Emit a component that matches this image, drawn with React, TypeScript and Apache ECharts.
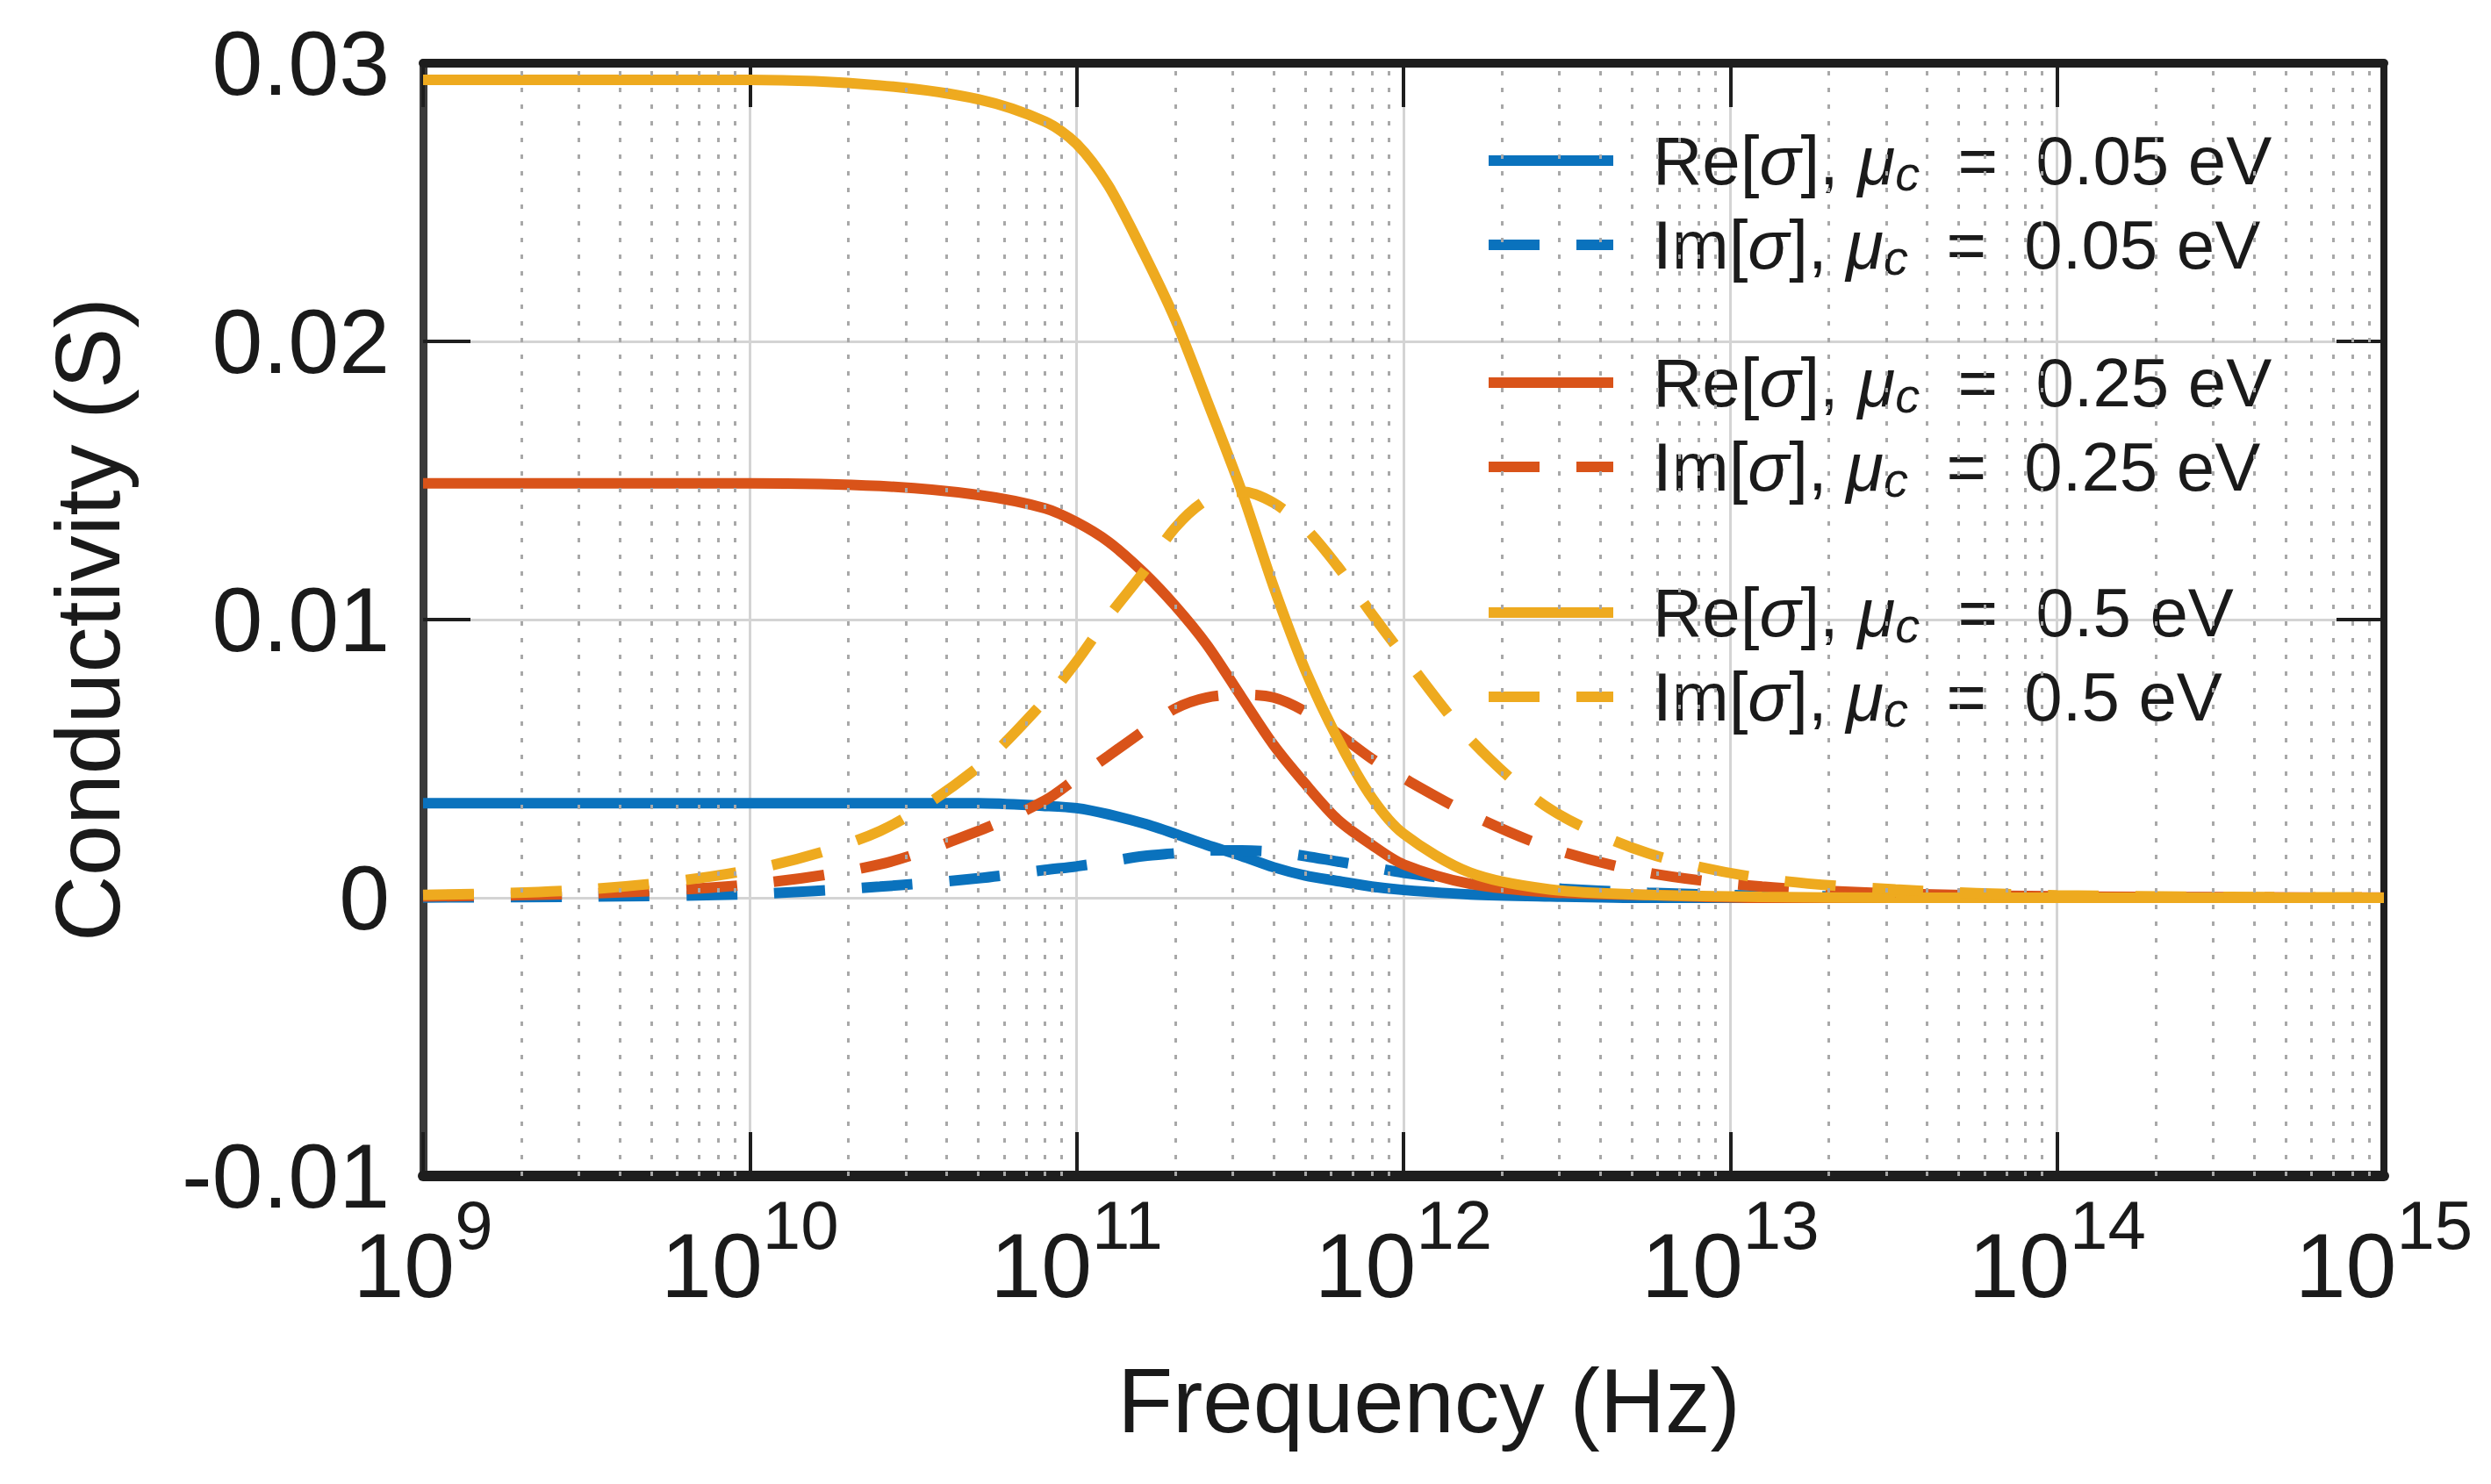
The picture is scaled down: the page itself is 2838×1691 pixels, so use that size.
import React, { useEffect, useRef } from 'react';
import * as echarts from 'echarts';

// frequency samples (Hz)
const freqs = [
  1e9, 3.2e9, 1e10, 2.5e10, 5e10, 8e10, 1e11, 1.25e11, 1.6e11, 2e11, 2.5e11, 3.2e11,
  4e11, 5e11, 6.3e11, 8e11, 1e12, 1.6e12, 2.8e12, 5.6e12, 1.25e13, 3.2e13, 1e14, 1e15,
];

const reBlue = [
  0.0034, 0.0034, 0.0034, 0.0034, 0.0034, 0.0033, 0.00322, 0.003, 0.00267, 0.0023, 0.0019, 0.0015,
  0.0011, 0.0008, 0.0006, 0.0004, 0.00028, 0.00012, 0.00005, 0, 0, 0, 0, 0,
];
const imBlue = [
  0.00001, 0.00004, 0.00013, 0.0004, 0.0007, 0.001, 0.00113, 0.0013, 0.0015, 0.0016, 0.0017, 0.0017,
  0.00165, 0.0015, 0.0013, 0.0011, 0.0009, 0.0006, 0.00035, 0.00018, 0.00008, 0.00003, 0.00001, 0,
];
const reRed = [
  0.0149, 0.0149, 0.0149, 0.0148, 0.01448, 0.014, 0.0135, 0.0128, 0.0117, 0.0105, 0.0091, 0.0072,
  0.0055, 0.0041, 0.0028, 0.0019, 0.0012, 0.0005, 0.0002, 0.0001, 0, 0, 0, 0,
];
const imRed = [
  0.00005, 0.00015, 0.00048, 0.0012, 0.0024, 0.0035, 0.0043, 0.0051, 0.006, 0.0068, 0.0072, 0.0073,
  0.0072, 0.0067, 0.0059, 0.005, 0.0043, 0.003, 0.0018, 0.0009, 0.0004, 0.00015, 0.00005, 0.000005,
];
const reOrange = [
  0.0294, 0.0294, 0.0294, 0.0292, 0.0287, 0.0279, 0.0271, 0.0256, 0.0232, 0.0208, 0.0179, 0.0146,
  0.0112, 0.0082, 0.0057, 0.0036, 0.0023, 0.0009, 0.0003, 0.0001, 0.00003, 0, 0, 0,
];
const imOrange = [
  0.0001, 0.0003, 0.001, 0.0024, 0.0047, 0.0071, 0.0085, 0.0101, 0.0117, 0.0133, 0.0143, 0.0146,
  0.0142, 0.0133, 0.0119, 0.0102, 0.0087, 0.0057, 0.0032, 0.0016, 0.0007, 0.0003, 0.00009, 0.00001,
];

const chemPotentials = ['0.05', '0.25', '0.5'];
const colors = ['#0A72BD', '#D95319', '#EEAA1F'];
const decades = [9, 10, 11, 12, 13, 14];
const minorSteps = [2, 3, 4, 5, 6, 7, 8, 9];

const FONT = '"Liberation Sans", Arial, sans-serif';

const App: React.FC = () => {
  const chartRef = useRef<HTMLDivElement>(null);

  useEffect(() => {
    if (!chartRef.current) return;
    document.body.style.margin = '0';
    const chart = echarts.init(chartRef.current, undefined, { renderer: 'svg' });

    const toPairs = (vals: number[]) => freqs.map((f, i) => [f, vals[i]]);
    const groups = [
      [reBlue, imBlue],
      [reRed, imRed],
      [reOrange, imOrange],
    ];

    const names: string[][] = chemPotentials.map((v) => [
      `Re[σ], μc = ${v} eV`,
      `Im[σ], μc = ${v} eV`,
    ]);

    const dataSeries: any[] = [];
    groups.forEach((g, gi) => {
      g.forEach((vals, k) => {
        dataSeries.push({
          name: names[gi][k],
          type: 'line',
          data: toPairs(vals),
          smooth: 0.3,
          symbol: 'none',
          z: 3,
          lineStyle: {
            color: colors[gi],
            width: 12,
            type: k === 0 ? 'solid' : [58, 42],
          },
          itemStyle: { color: colors[gi] },
        });
      });
    });

    const minorLines: any[] = [];
    decades.forEach((d) => {
      minorSteps.forEach((m) => minorLines.push({ xAxis: m * Math.pow(10, d) }));
    });

    const legendFormatter = (name: string) => {
      const kind = name.slice(0, 2);
      const m = name.match(/= (.+) eV/);
      const v = m ? m[1] : '';
      return `{t|${kind}[}{i|σ}{t|], }{i|μ}{c|c}{t|  =  ${v} eV}`;
    };

    const legendText = {
      color: '#1a1a1a',
      fontFamily: FONT,
      fontSize: 78,
      lineHeight: 84,
      padding: [0, 0, 0, 40],
      rich: {
        t: { fontFamily: FONT, fontSize: 78, lineHeight: 84, color: '#1a1a1a' },
        i: { fontFamily: FONT, fontSize: 78, lineHeight: 84, fontStyle: 'italic', color: '#1a1a1a' },
        c: {
          fontFamily: FONT,
          fontSize: 56,
          lineHeight: 50,
          fontStyle: 'italic',
          verticalAlign: 'bottom',
          color: '#1a1a1a',
        },
      },
    };

    const legendTops = [141, 394, 656];
    const legends = names.map((pair, gi) => ({
      data: pair,
      orient: 'vertical',
      left: 1690,
      top: legendTops[gi],
      itemWidth: 142,
      itemHeight: 14,
      itemGap: 12,
      padding: 0,
      selectedMode: false,
      formatter: legendFormatter,
      itemStyle: { opacity: 0 },
      lineStyle: { width: 12 },
      textStyle: legendText,
    }));

    const option: echarts.EChartsOption = {
      animation: false,
      backgroundColor: '#ffffff',
      grid: { left: 482, right: 122, top: 72, bottom: 351 },
      legend: legends as any,
      xAxis: [
        {
          type: 'log',
          logBase: 10,
          min: 1e9,
          max: 1e15,
          interval: 1,
          name: 'Frequency (Hz)',
          nameLocation: 'middle',
          nameGap: 205,
          nameTextStyle: { fontFamily: FONT, fontSize: 103, color: '#1a1a1a', padding: [0, 0, 0, 58] },
          axisLine: { show: true, onZero: false, lineStyle: { color: '#1e1e1e', width: 12 } },
          axisTick: { show: true, inside: true, length: 50, lineStyle: { color: '#1e1e1e', width: 4 } },
          axisLabel: {
            margin: 50,
            formatter: (value: number) => `{b|10}{s|${Math.round(Math.log10(value))}}`,
            rich: {
              b: { fontFamily: FONT, fontSize: 104, lineHeight: 104, color: '#1a1a1a' },
              s: { fontFamily: FONT, fontSize: 78, lineHeight: 78, color: '#1a1a1a', padding: [0, 0, 92, 0] },
            },
          },
          splitLine: { show: true, lineStyle: { color: '#d4d4d4', width: 3 } },
        },
        {
          type: 'log',
          logBase: 10,
          min: 1e9,
          max: 1e15,
          interval: 1,
          position: 'top',
          axisLine: { show: true, onZero: false, lineStyle: { color: '#1e1e1e', width: 10 } },
          axisTick: { show: true, inside: true, length: 50, lineStyle: { color: '#1e1e1e', width: 4 } },
          axisLabel: { show: false },
          splitLine: { show: false },
        },
      ],
      yAxis: [
        {
          type: 'value',
          min: -0.01,
          max: 0.03,
          interval: 0.01,
          name: 'Conductivity (S)',
          nameLocation: 'middle',
          nameGap: 330,
          nameTextStyle: { fontFamily: FONT, fontSize: 104, color: '#1a1a1a' },
          axisLine: { show: true, onZero: false, lineStyle: { color: '#3a3a3a', width: 9 } },
          axisTick: { show: true, inside: true, length: 54, lineStyle: { color: '#1e1e1e', width: 4 } },
          axisLabel: {
            margin: 38,
            fontFamily: FONT,
            fontSize: 104,
            color: '#1a1a1a',
            formatter: (v: number) => (Math.abs(v) < 1e-9 ? '0' : String(+v.toFixed(2))),
          },
          splitLine: { show: true, lineStyle: { color: '#d4d4d4', width: 3 } },
        },
        {
          type: 'value',
          min: -0.01,
          max: 0.03,
          interval: 0.01,
          position: 'right',
          axisLine: { show: true, onZero: false, lineStyle: { color: '#1e1e1e', width: 8 } },
          axisTick: { show: true, inside: true, length: 54, lineStyle: { color: '#1e1e1e', width: 4 } },
          axisLabel: { show: false },
          splitLine: { show: false },
        },
      ],
      series: [
        {
          name: 'minor-grid',
          type: 'line',
          data: [],
          z: 1,
          silent: true,
          markLine: {
            silent: true,
            symbol: ['none', 'none'],
            label: { show: false },
            lineStyle: { color: '#a8a8a8', width: 3, type: [5, 14] },
            data: minorLines,
          },
        },
        ...dataSeries,
      ],
    };

    chart.setOption(option);

    return () => {
      chart.dispose();
    };
  }, []);

  return <div ref={chartRef} style={{ width: '2838px', height: '1691px' }} />;
};

export default App;
